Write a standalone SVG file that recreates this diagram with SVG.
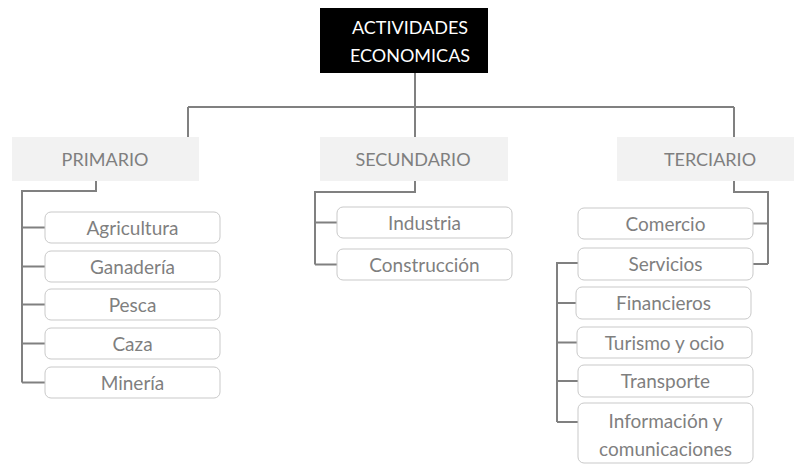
<svg xmlns="http://www.w3.org/2000/svg" width="794" height="464" viewBox="0 0 794 464">
<style>
.conn{fill:none;stroke:#808080;stroke-width:2}
.root rect{fill:#000}
.root text{fill:#fff;font-family:Lato,"Liberation Sans",sans-serif;font-size:18px;text-anchor:middle}
.cat rect{fill:#f2f2f2}
.cat text{fill:#7f7f7f;font-family:Lato,"Liberation Sans",sans-serif;font-size:18px;text-anchor:middle}
.leaf rect{fill:#fff;stroke:#c9c9c9;stroke-width:1}
.leaf text{fill:#7f7f7f;font-family:Lato,"Liberation Sans",sans-serif;font-size:19px;text-anchor:middle}
</style>
<rect width="794" height="464" fill="#fff"/>
<g id="connectors" class="conn">
<path d="M415 73V107M188 107H734M188 107V137M415 107V137M734 107V137"/>
<path d="M96 181V191H22V382.5M22 227.5H45M22 266.5H45M22 304.5H45M22 343.5H45M22 382.5H45"/>
<path d="M415 181V192H315V264.5M315 222.5H337M315 264.5H337"/>
<path d="M734 181V192H768V264M768 223.5H753M768 264H753"/>
<path d="M578 263H557V422M557 303H576M557 342.5H577M557 381H578M557 422H578"/>
</g>
<g id="root" class="root"><rect x="320" y="8" width="168" height="65"/><text x="410" y="34">ACTIVIDADES</text><text x="410" y="62">ECONOMICAS</text></g>
<g id="primario" class="cat"><rect x="12" y="137" width="187" height="44"/><text x="105" y="166">PRIMARIO</text></g>
<g id="secundario" class="cat"><rect x="320" y="137" width="188" height="44"/><text x="413" y="166">SECUNDARIO</text></g>
<g id="terciario" class="cat"><rect x="617" y="137" width="190" height="44"/><text x="710" y="166">TERCIARIO</text></g>
<g id="agricultura" class="leaf"><rect x="45" y="212" width="175" height="31" rx="6"/><text x="132.5" y="234.5">Agricultura</text></g>
<g id="ganaderia" class="leaf"><rect x="45" y="251" width="175" height="31" rx="6"/><text x="132.5" y="273.5">Ganadería</text></g>
<g id="pesca" class="leaf"><rect x="45" y="289" width="175" height="31" rx="6"/><text x="132.5" y="311.5">Pesca</text></g>
<g id="caza" class="leaf"><rect x="45" y="328" width="175" height="31" rx="6"/><text x="132.5" y="350.5">Caza</text></g>
<g id="mineria" class="leaf"><rect x="45" y="367" width="175" height="31" rx="6"/><text x="132.5" y="389.5">Minería</text></g>
<g id="industria" class="leaf"><rect x="337" y="207" width="175" height="31" rx="6"/><text x="424.5" y="229.5">Industria</text></g>
<g id="construccion" class="leaf"><rect x="337" y="249" width="175" height="31" rx="6"/><text x="424.5" y="271.5">Construcción</text></g>
<g id="comercio" class="leaf"><rect x="578" y="208" width="175" height="31" rx="6"/><text x="665.5" y="230.5">Comercio</text></g>
<g id="servicios" class="leaf"><rect x="578" y="248" width="175" height="32" rx="6"/><text x="665.5" y="271">Servicios</text></g>
<g id="financieros" class="leaf"><rect x="576" y="287" width="175" height="32" rx="6"/><text x="663.5" y="310">Financieros</text></g>
<g id="turismo" class="leaf"><rect x="577" y="327" width="175" height="31" rx="6"/><text x="664.5" y="349.5">Turismo y ocio</text></g>
<g id="transporte" class="leaf"><rect x="578" y="365" width="175" height="32" rx="6"/><text x="665.5" y="388">Transporte</text></g>
<g id="informacion" class="leaf"><rect x="578" y="403" width="175" height="60" rx="6"/><text x="665.5" y="428">Información y</text><text x="665.5" y="456">comunicaciones</text></g>
</svg>
